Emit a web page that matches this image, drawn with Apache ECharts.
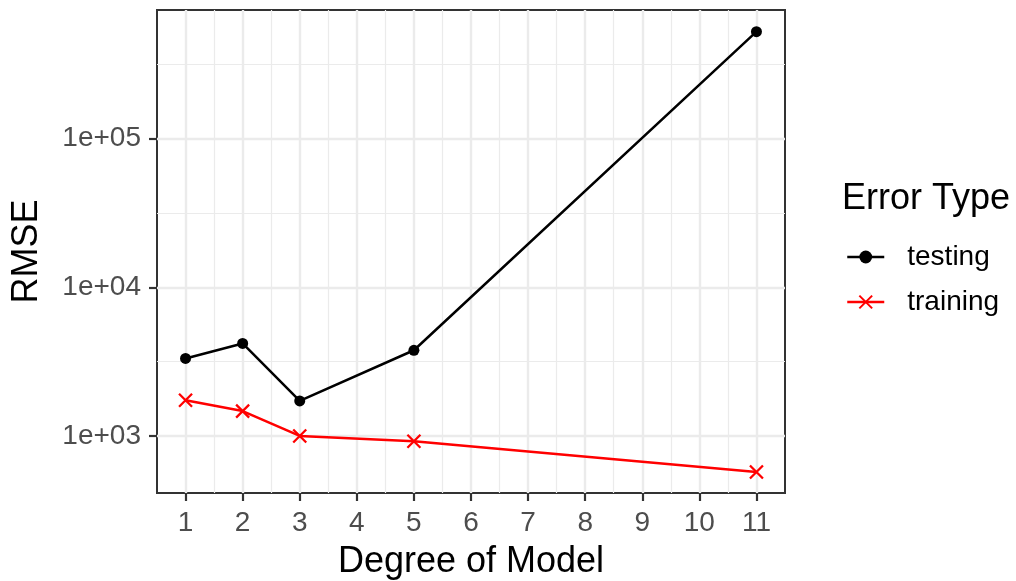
<!DOCTYPE html>
<html><head><meta charset="utf-8">
<script src="https://cdn.jsdelivr.net/npm/echarts@6/dist/echarts.min.js"></script>
<style>html,body{margin:0;padding:0;background:#fff}#chart{width:1016px;height:581px}</style>
</head><body><div id="chart"></div>
<script>
// ---- data ----
const degree = [1, 2, 3, 5, 11];
const testingRMSE = [3320, 4190, 1720, 3770, 524000];
const trainingRMSE = [1740, 1470, 1000, 921, 572];
const seriesNames = ['testing', 'training'];
const xBreaks = [1, 2, 3, 4, 5, 6, 7, 8, 9, 10, 11];
const xMinorBreaks = [1.5, 2.5, 3.5, 4.5, 5.5, 6.5, 7.5, 8.5, 9.5, 10.5];
const yBreaks = [1000, 10000, 100000];
const yTickLabels = ['1e+03', '1e+04', '1e+05'];
const yMinorBreaks = [3162.28, 31622.8, 316228];
const xLimits = [0.5, 11.5];
const yLimits = [413.4, 732500];

// ---- style ----
const FONT = '"Liberation Sans", Arial, Helvetica, sans-serif';
const GRID_COLOR = '#EBEBEB';
const INK = '#333333';
const TICK_TEXT = '#4D4D4D';

const chart = echarts.init(document.getElementById('chart'), null, {renderer: 'canvas'});

const hidden = {show: false};
const option = {
  animation: false,
  backgroundColor: '#ffffff',
  textStyle: {fontFamily: FONT},
  title: {
    text: 'Error Type', left: 842, top: 181, padding: 0,
    textStyle: {fontFamily: FONT, fontSize: 36, fontWeight: 'normal', color: '#000'}
  },
  legend: {
    data: seriesNames, orient: 'vertical', left: 846, top: 243, padding: 0,
    itemWidth: 37, itemHeight: 16, itemGap: 17, selectedMode: false,
    lineStyle: {width: 2.5},
    textStyle: {fontFamily: FONT, fontSize: 28, color: '#000', padding: [0, 0, 0, 18]}
  },
  grid: {
    left: 157, right: 231, top: 10, bottom: 88,
    show: true, borderColor: INK, borderWidth: 2, backgroundColor: 'transparent',
    containLabel: false, outerBoundsMode: 'none'
  },
  xAxis: [{
    type: 'value', min: xLimits[0], max: xLimits[1],
    name: 'Degree of Model', nameLocation: 'middle', nameGap: 51,
    nameTextStyle: {fontFamily: FONT, fontSize: 36, color: '#000'},
    axisLine: hidden,
    axisTick: {show: true, length: 8, customValues: xBreaks, lineStyle: {color: INK, width: 2.2}},
    axisLabel: {show: true, customValues: xBreaks, margin: 16, fontFamily: FONT, fontSize: 28, color: TICK_TEXT},
    splitLine: {show: true, lineStyle: {color: GRID_COLOR, width: 2.4}}
  }, {
    type: 'value', min: xLimits[0], max: xLimits[1], position: 'bottom',
    axisLine: hidden, axisLabel: hidden,
    axisTick: {show: false, customValues: xMinorBreaks},
    splitLine: {show: true, lineStyle: {color: GRID_COLOR, width: 1.2}}
  }],
  yAxis: [{
    type: 'log', logBase: 10, min: yLimits[0], max: yLimits[1],
    name: 'RMSE', nameLocation: 'middle', nameGap: 112, nameRotate: 90,
    nameTextStyle: {fontFamily: FONT, fontSize: 36, color: '#000'},
    axisLine: hidden,
    axisTick: {show: true, length: 8, customValues: yBreaks, lineStyle: {color: INK, width: 2.2}},
    axisLabel: {show: true, customValues: yBreaks, margin: 16, fontFamily: FONT, fontSize: 28, color: TICK_TEXT,
      formatter: function (v) {
        const i = yBreaks.findIndex(b => Math.abs(b - v) / b < 1e-6);
        return i >= 0 ? yTickLabels[i] : '';
      }},
    splitLine: {show: true, lineStyle: {color: GRID_COLOR, width: 2.4}}
  }, {
    type: 'log', logBase: 10, min: yLimits[0], max: yLimits[1], position: 'left',
    axisLine: hidden, axisLabel: hidden,
    axisTick: {show: false, customValues: yMinorBreaks},
    splitLine: {show: true, lineStyle: {color: GRID_COLOR, width: 1.2}}
  }],
  series: [{
    name: seriesNames[0], type: 'line', xAxisIndex: 0, yAxisIndex: 0,
    data: degree.map((d, i) => [d, testingRMSE[i]]),
    symbol: 'circle', symbolSize: 11, showAllSymbol: true,
    lineStyle: {color: '#000000', width: 2.5},
    itemStyle: {color: '#000000'},
    z: 3
  }, {
    name: seriesNames[1], type: 'line', xAxisIndex: 0, yAxisIndex: 0,
    data: degree.map((d, i) => [d, trainingRMSE[i]]),
    symbol: 'path://M0,0L10,10M0,10L10,0', symbolSize: 13, showAllSymbol: true,
    lineStyle: {color: '#FF0000', width: 2.5},
    itemStyle: {color: '#FF0000', borderColor: '#FF0000', borderWidth: 2.3},
    z: 3
  }]
};
chart.setOption(option);
</script>
</body></html>
